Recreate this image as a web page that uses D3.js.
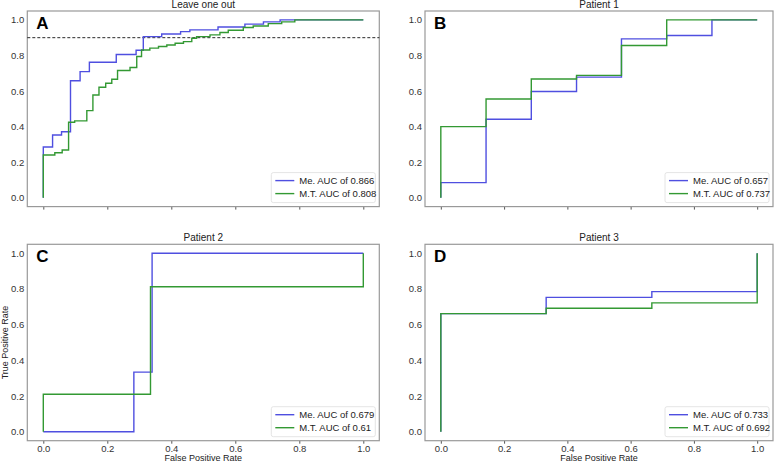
<!DOCTYPE html>
<html>
<head>
<meta charset="utf-8">
<script src="https://cdn.jsdelivr.net/npm/d3@7"></script>
<style>
  body { margin: 0; background: #fff; }
  svg { display: block; font-family: "Liberation Sans", Arial, sans-serif; }
</style>
</head>
<body>
<svg id="chart" width="778" height="463"></svg>
<script>
// ---------- data ----------
const panelLetters = ["A", "B", "C", "D"];
const panelTitles = ["Leave one out", "Patient 1", "Patient 2", "Patient 3"];
const seriesNames = ["Me.", "M.T."];
const aucMe = ["0.866", "0.657", "0.679", "0.733"];
const aucMt = ["0.808", "0.737", "0.61", "0.692"];
const tickValues = [0, 0.2, 0.4, 0.6, 0.8, 1.0];

// step-after ROC points (fpr, tpr)
const meFprA = [0, 0, 0.029, 0.057, 0.085, 0.115, 0.144, 0.228, 0.29, 0.3125, 0.37, 0.429, 0.458, 0.546, 0.63, 0.688, 0.74, 1];
const meTprA = [0, 0.285, 0.353, 0.371, 0.658, 0.709, 0.762, 0.805, 0.829, 0.906, 0.921, 0.934, 0.944, 0.96, 0.976, 0.989, 1, 1];
const mtFprA = [0, 0, 0.036, 0.059, 0.079, 0.098, 0.136, 0.155, 0.174, 0.195, 0.214, 0.232, 0.271, 0.292, 0.307, 0.333, 0.36, 0.386, 0.412, 0.438, 0.464, 0.479, 0.521, 0.552, 0.578, 0.625, 0.656, 0.703, 0.745, 0.786, 1];
const mtTprA = [0, 0.24, 0.253, 0.268, 0.424, 0.432, 0.49, 0.578, 0.621, 0.644, 0.666, 0.715, 0.732, 0.794, 0.831, 0.841, 0.85, 0.859, 0.869, 0.878, 0.897, 0.906, 0.916, 0.929, 0.942, 0.957, 0.966, 0.979, 0.989, 1, 1];

const meFprB = [0, 0, 0.143, 0.286, 0.429, 0.571, 0.714, 0.857, 1];
const meTprB = [0, 0.085, 0.441, 0.597, 0.678, 0.893, 0.912, 1, 1];
const mtFprB = [0, 0, 0.143, 0.286, 0.429, 0.571, 0.714, 1];
const mtTprB = [0, 0.4, 0.555, 0.668, 0.688, 0.856, 1, 1];

const meFprC = [0, 0.283, 0.34, 1];
const meTprC = [0, 0.334, 1, 1];
const mtFprC = [0, 0, 0.335, 1, 1];
const mtTprC = [0, 0.21, 0.812, 0.812, 1];

const meFprD = [0, 0, 0.333, 0.667, 1, 1];
const meTprD = [0, 0.662, 0.753, 0.785, 0.785, 1];
const mtFprD = [0, 0, 0.333, 0.667, 1, 1];
const mtTprD = [0, 0.662, 0.692, 0.722, 0.722, 1];

const thresholdA = 0.9;

// ---------- layout / style ----------
const colorMe = "#4f4fe0";
const colorMt = "#339933";
const frames = [
  { x0: 27.3, x1: 379.3, y0: 11, y1: 206.6 },
  { x0: 425, x1: 773, y0: 11, y1: 206.6 },
  { x0: 27.3, x1: 379.3, y0: 244.3, y1: 440.7 },
  { x0: 425, x1: 773, y0: 244.3, y1: 440.7 }
];
const meData = [[meFprA, meTprA], [meFprB, meTprB], [meFprC, meTprC], [meFprD, meTprD]];
const mtData = [[mtFprA, mtTprA], [mtFprB, mtTprB], [mtFprC, mtTprC], [mtFprD, mtTprD]];

const svg = d3.select("#chart");
const zip = (xs, ys) => xs.map((x, i) => [x, ys[i]]);

frames.forEach((f, i) => {
  const x = d3.scaleLinear().domain([-0.05, 1.05]).range([f.x0, f.x1]);
  const y = d3.scaleLinear().domain([-0.05, 1.05]).range([f.y1, f.y0]);
  const g = svg.append("g");

  // axes
  const xAxis = d3.axisBottom(x).tickValues(tickValues).tickFormat(d3.format(".1f")).tickSize(3).tickPadding(2);
  const xg = g.append("g").attr("transform", `translate(0,${f.y1})`).call(xAxis);
  xg.select(".domain").remove();
  xg.selectAll("line").attr("stroke", "#555");
  xg.selectAll("text").attr("fill", "#333").style("font-size", "9.5px");
  if (i < 2) xg.selectAll("text").remove();

  const yAxis = d3.axisLeft(y).tickValues(tickValues).tickFormat(d3.format(".1f")).tickSize(0).tickPadding(3);
  const yg = g.append("g").attr("transform", `translate(${f.x0},0)`).call(yAxis);
  yg.select(".domain").remove();
  yg.selectAll("text").attr("fill", "#333").style("font-size", "9.5px");

  // frame
  g.append("rect")
    .attr("x", f.x0).attr("y", f.y0)
    .attr("width", f.x1 - f.x0).attr("height", f.y1 - f.y0)
    .attr("fill", "none").attr("stroke", "#999").attr("stroke-width", 1.2);

  // title
  g.append("text")
    .attr("x", (f.x0 + f.x1) / 2).attr("y", f.y0 - 3)
    .attr("text-anchor", "middle").attr("fill", "#222")
    .style("font-size", "10px")
    .text(panelTitles[i]);

  // panel letter
  g.append("text")
    .attr("x", f.x0 + 9).attr("y", f.y0 + 18)
    .attr("fill", "#000").style("font-size", "17px").style("font-weight", "bold")
    .text(panelLetters[i]);

  // threshold line in panel A
  if (i === 0) {
    g.append("line")
      .attr("x1", f.x0).attr("x2", f.x1)
      .attr("y1", y(thresholdA)).attr("y2", y(thresholdA))
      .attr("stroke", "#111").attr("stroke-width", 0.9)
      .attr("stroke-dasharray", "3,2");
  }

  const line = d3.line().x(d => x(d[0])).y(d => y(d[1])).curve(d3.curveStepAfter);
  g.append("path").datum(zip(meData[i][0], meData[i][1]))
    .attr("d", line).attr("fill", "none").attr("stroke", colorMe).attr("stroke-width", 1.4);
  g.append("path").datum(zip(mtData[i][0], mtData[i][1]))
    .attr("d", line).attr("fill", "none").attr("stroke", colorMt).attr("stroke-width", 1.4);

  // legend
  const lw = 104, lh = 30;
  const lx = f.x1 - 4 - lw, ly = f.y1 - 4 - lh;
  const lg = g.append("g");
  lg.append("rect").attr("x", lx).attr("y", ly).attr("width", lw).attr("height", lh)
    .attr("rx", 2).attr("fill", "#fff").attr("stroke", "#ddd").attr("stroke-width", 0.8);
  const items = [
    { name: seriesNames[0], auc: aucMe[i], color: colorMe },
    { name: seriesNames[1], auc: aucMt[i], color: colorMt }
  ];
  items.forEach((it, k) => {
    const cy = ly + 8 + k * 13;
    lg.append("line").attr("x1", lx + 4).attr("x2", lx + 23).attr("y1", cy).attr("y2", cy)
      .attr("stroke", it.color).attr("stroke-width", 1.4);
    lg.append("text").attr("x", lx + 28).attr("y", cy + 3.3)
      .attr("fill", "#222").style("font-size", "9.5px")
      .text(`${it.name} AUC of ${it.auc}`);
  });
});

// axis labels
svg.append("text")
  .attr("x", (frames[2].x0 + frames[2].x1) / 2).attr("y", 461)
  .attr("text-anchor", "middle").attr("fill", "#222").style("font-size", "9px")
  .text("False Positive Rate");
svg.append("text")
  .attr("x", (frames[3].x0 + frames[3].x1) / 2).attr("y", 461)
  .attr("text-anchor", "middle").attr("fill", "#222").style("font-size", "9px")
  .text("False Positive Rate");
svg.append("text")
  .attr("transform", `translate(8,${(frames[2].y0 + frames[2].y1) / 2}) rotate(-90)`)
  .attr("text-anchor", "middle").attr("fill", "#222").style("font-size", "9px")
  .text("True Positive Rate");
</script>
</body>
</html>
